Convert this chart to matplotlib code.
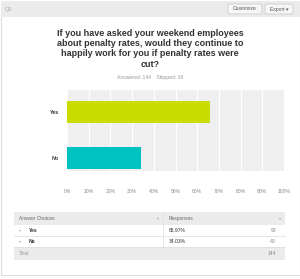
import matplotlib.pyplot as plt
from matplotlib.patches import Rectangle, FancyBboxPatch

plt.rcParams['font.family'] = ['Liberation Sans', 'DejaVu Sans']

# data
question = 'Q3'
title_lines = ['If you have asked your weekend employees',
               'about penalty rates, would they continue to',
               'happily work for you if penalty rates were',
               'cut?']
choices = ['Yes', 'No']
percents = [65.97, 34.03]
counts = [95, 49]
answered = 144
skipped = 19
bar_colors = ['#c8dc00', '#00c2c0']
xticks = list(range(0, 101, 10))

W, H = 300, 279
fig = plt.figure(figsize=(W / 100, H / 100), dpi=100)
fig.patch.set_facecolor('white')


def px(x, y):
    # pixel coords (from top-left) -> figure fraction
    return x / W, 1 - y / H


def rect(x0, y0, x1, y1, color, ec='none', lw=0.5):
    fig.add_artist(Rectangle(px(x0, y1), (x1 - x0) / W, (y1 - y0) / H,
                             facecolor=color, edgecolor=ec, lw=lw,
                             transform=fig.transFigure, zorder=-2))


def txt(x, y, s, **kw):
    fig.text(*px(x, y), s, **kw)


# card body and header
rect(0.5, 0.5, 299.5, 275, 'white', ec='#dedede', lw=0.8)
rect(0.5, 0.5, 299.5, 17, '#ebebeb')
txt(5, 9, question, fontsize=4, color='#aaaaaa', va='center')
for x0, x1, label in [(228, 262, 'Customize'), (265, 293, 'Export \u25be')]:
    fig.add_artist(FancyBboxPatch(px(x0, 14), (x1 - x0) / W, 10 / H,
                                  boxstyle='round,pad=0,rounding_size=0.005',
                                  facecolor='#f6f6f6', edgecolor='#c4c4c4', lw=0.5,
                                  transform=fig.transFigure))
    txt((x0 + x1) / 2, 9, label, fontsize=3.6, color='#555555',
        ha='center', va='center')

# title
for i, line in enumerate(title_lines):
    txt(150, 33 + i * 10.5, line, fontsize=6.5, fontweight='bold',
        color='#333333', ha='center', va='center')
txt(150, 77, f'Answered: {answered}    Skipped: {skipped}', fontsize=3.6,
    color='#999999', ha='center', va='center')

# bar chart
ax = fig.add_axes([67 / W, 1 - 171 / H, (284 - 67) / W, (171 - 90) / H])
ax.set_zorder(5)
ax.set_facecolor('#efefef')
ypos = [1, 0]
ax.barh(ypos, percents, height=0.48, color=bar_colors, zorder=3)
ax.set_xlim(0, 100)
ax.set_ylim(-0.283, 1.478)
ax.set_xticks(xticks)
ax.set_xticklabels([f'{t}%' for t in xticks], fontsize=3.6, color='#888888')
ax.set_yticks(ypos)
ax.set_yticklabels(choices, fontsize=3.8, fontweight='bold', color='#333333')
ax.grid(axis='x', color='white', lw=0.8, zorder=1)
ax.tick_params(length=0, pad=13)
ax.tick_params(axis='y', pad=6)
for s in ax.spines.values():
    s.set_visible(False)

# table
tx0, tx1, tdiv = 14, 285, 163
rect(tx0, 212, tx1, 225, '#ebebeb')
rect(tx0, 247, tx1, 260, '#ebebeb')
txt(19, 218.5, 'Answer Choices', fontsize=3.5, color='#666666', va='center')
txt(169, 218.5, 'Responses', fontsize=3.5, color='#666666', va='center')
txt(158, 218.5, '\u25be', fontsize=3, color='#aaaaaa', va='center', ha='center')
txt(280, 218.5, '\u25be', fontsize=3, color='#aaaaaa', va='center', ha='center')
fig.add_artist(plt.Line2D([tdiv / W] * 2, [1 - 212 / H, 1 - 247 / H],
                          color='#dddddd', lw=0.5, transform=fig.transFigure))
for i, (c, p, n) in enumerate(zip(choices, percents, counts)):
    yc = 230.5 + i * 11
    txt(20, yc, '\u25be', fontsize=3, color='#aaaaaa', va='center', ha='center')
    txt(29, yc, c, fontsize=3.6, fontweight='bold', color='#333333', va='center')
    txt(169, yc, f'{p:.2f}%', fontsize=3.6, color='#333333', va='center')
    txt(276, yc, str(n), fontsize=3.6, color='#888888', va='center', ha='right')
    fig.add_artist(plt.Line2D([tx0 / W, tx1 / W], [1 - (yc + 5.5) / H] * 2,
                              color='#dddddd', lw=0.5, transform=fig.transFigure))
txt(19, 253.5, 'Total', fontsize=3.5, color='#999999', va='center')
txt(276, 253.5, str(answered), fontsize=3.6, color='#888888', va='center', ha='right')

fig.savefig('out.png', dpi=100, facecolor=fig.get_facecolor())
